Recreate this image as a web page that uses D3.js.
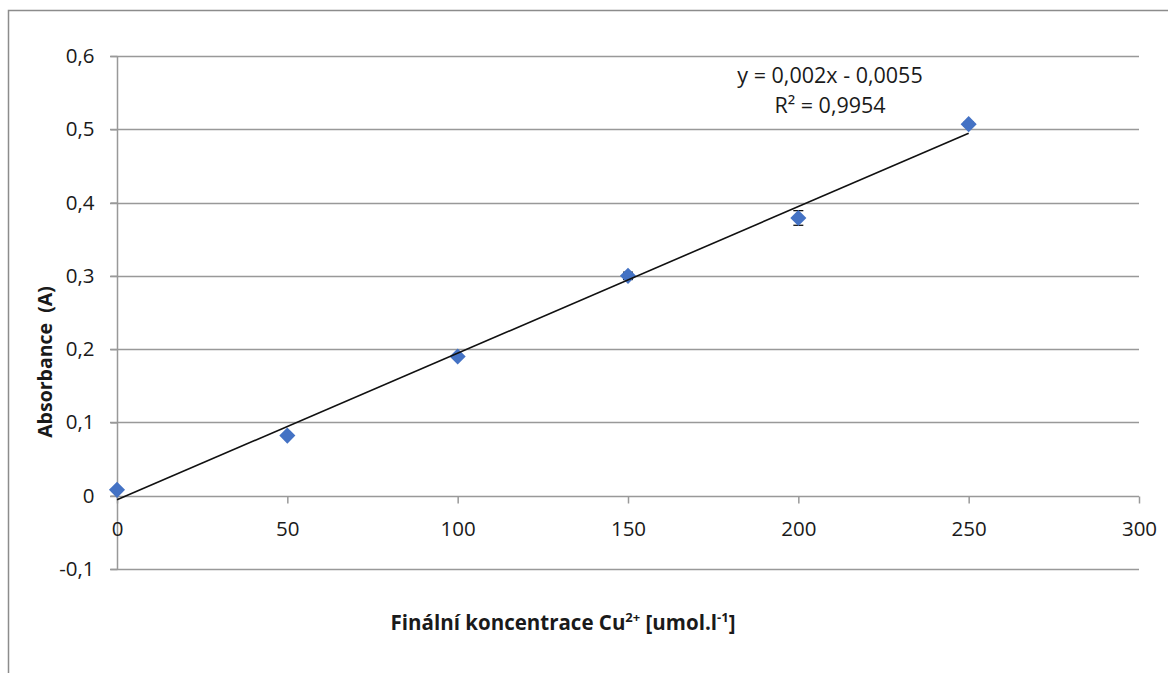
<!DOCTYPE html>
<html><head><meta charset="utf-8">
<script src="https://cdn.jsdelivr.net/npm/d3@7"></script>
<style>
html,body{margin:0;padding:0;background:#fff;}
svg{display:block;}
text{font-family:"Open Sans",sans-serif;fill:#1a1a1a;}
</style></head>
<body>
<script>
const concentrations = [0, 50, 100, 150, 200, 250];
const absorbance = [0.008, 0.082, 0.190, 0.300, 0.379, 0.507];
const errors = [0.002, 0.002, 0.002, 0.005, 0.010, 0.003];
const xTicks = [0, 50, 100, 150, 200, 250, 300];
const yTicks = [-0.1, 0, 0.1, 0.2, 0.3, 0.4, 0.5, 0.6];
const slope = 0.002, intercept = -0.0055;
const equationLines = ["y = 0,002x - 0,0055", "R² = 0,9954"];

const W = 1168, H = 673;
const svg = d3.select("body").append("svg").attr("width", W).attr("height", H);

svg.append("rect").attr("x", 8.5).attr("y", 10.5).attr("width", W + 20).attr("height", H + 20)
  .attr("fill", "#fff").attr("stroke", "#8c8c8c").attr("stroke-width", 1.5);

const x = d3.scaleLinear().domain([0, 300]).range([117, 1139]);
const y = d3.scaleLinear().domain([-0.1, 0.6]).range([569, 56]);
const yFmt = v => Math.abs(v) < 1e-9 ? "0" : d3.format(".1f")(v).replace(".", ",").replace("−","-");

// gridlines
svg.append("g").selectAll("line").data(yTicks.filter(v => Math.abs(v) > 1e-9)).join("line")
  .attr("x1", 110).attr("x2", 1139)
  .attr("y1", d => Math.round(y(d)) + 0.5).attr("y2", d => Math.round(y(d)) + 0.5)
  .attr("stroke", "#999").attr("stroke-width", 1.5);

// y axis
const yAxis = d3.axisLeft(y).tickValues(yTicks).tickSize(7).tickPadding(16).tickFormat(yFmt);
const gy = svg.append("g").attr("transform", "translate(117.5,0)").call(yAxis);
gy.select(".domain").attr("stroke", "#999").attr("stroke-width", 1.5).attr("d", `M0,${y(0.6)}V${y(-0.1)}`);
gy.selectAll(".tick line").attr("stroke", "#999").attr("stroke-width", 1.5);
gy.selectAll("text").attr("font-size", 20.5).attr("font-family", "Open Sans").attr("fill", "#1a1a1a");

// x axis at zero
const xAxis = d3.axisBottom(x).tickValues(xTicks).tickSize(7).tickPadding(18).tickFormat(d3.format("d"));
const gx = svg.append("g").attr("transform", `translate(0,${Math.round(y(0)) + 0.5})`).call(xAxis);
gx.select(".domain").attr("stroke", "#999").attr("stroke-width", 1.5).attr("d", `M110,0H${x(300)}`);
gx.selectAll(".tick line").attr("stroke", "#999").attr("stroke-width", 1.5);
gx.selectAll("text").attr("font-size", 20.5).attr("font-family", "Open Sans").attr("fill", "#1a1a1a");

const pts = concentrations.map((c, i) => ({c, a: absorbance[i], e: errors[i]}));

// error bars
const eb = svg.append("g").attr("stroke", "#111").attr("stroke-width", 1.3);
pts.forEach(p => {
  eb.append("line").attr("x1", x(p.c)).attr("x2", x(p.c)).attr("y1", y(p.a + p.e)).attr("y2", y(p.a - p.e));
  [p.a + p.e, p.a - p.e].forEach(v => eb.append("line").attr("x1", x(p.c) - 5).attr("x2", x(p.c) + 5).attr("y1", y(v)).attr("y2", y(v)));
});

// markers
const sym = d3.symbol().type(d3.symbolDiamond2).size(165);
svg.append("g").selectAll("path").data(pts).join("path")
  .attr("d", sym).attr("transform", d => `translate(${x(d.c)},${y(d.a)})`)
  .attr("fill", "#4472C4");

// trendline
svg.append("line")
  .attr("x1", x(0)).attr("y1", y(intercept))
  .attr("x2", x(250)).attr("y2", y(slope * 250 + intercept))
  .attr("stroke", "#111").attr("stroke-width", 1.6);

// equation
svg.append("text").attr("x", 830).attr("y", 83).attr("text-anchor", "middle").attr("font-size", 21.5).text(equationLines[0]);
svg.append("text").attr("x", 830).attr("y", 113).attr("text-anchor", "middle").attr("font-size", 21.5)
  .text(equationLines[1]);

// axis titles
svg.append("text").attr("transform", "translate(52,362) rotate(-90)").attr("text-anchor", "middle")
  .style("white-space", "pre")
  .attr("font-size", 19.5).attr("font-weight", "bold").attr("fill", "#111").text("Absorbance  (A)");

const xt = svg.append("text").attr("x", 563).attr("y", 630).attr("text-anchor", "middle")
  .attr("font-size", 20.5).attr("font-weight", "bold").attr("fill", "#111");
xt.append("tspan").text("Finální koncentrace Cu");
xt.append("tspan").attr("font-size", 13).attr("dy", -8).text("2+");
xt.append("tspan").attr("dy", 8).text(" [umol.l");
xt.append("tspan").attr("font-size", 13).attr("dy", -8).text("-1");
xt.append("tspan").attr("dy", 8).text("]");
</script>
</body></html>
